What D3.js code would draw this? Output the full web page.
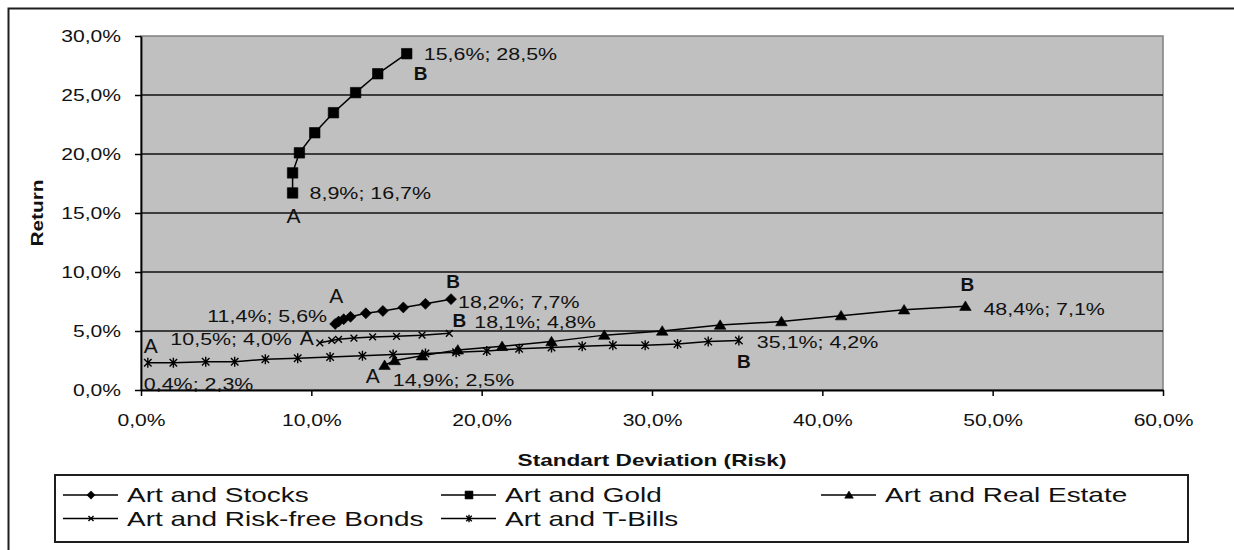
<!DOCTYPE html>
<html>
<head>
<meta charset="utf-8">
<script src="https://cdn.jsdelivr.net/npm/d3@7"></script>
<style>
  html, body { margin: 0; padding: 0; background: #fff; }
  svg { display: block; }
  text { font-family: "Liberation Sans", Arial, sans-serif; fill: #111; }
</style>
</head>
<body>
<svg id="chart" width="1234" height="550"></svg>
<script>
// Risk / return of two-asset portfolios: Art combined with another asset class.
// Values are in percent (standard deviation, return).

const seriesNames = ["Art and Stocks", "Art and Gold", "Art and Real Estate", "Art and Risk-free Bonds", "Art and T-Bills"];

const stocksRisk   = [11.4, 11.6, 11.9, 12.3, 13.2, 14.2, 15.4, 16.7, 18.2];
const stocksReturn = [5.6, 5.8, 6.0, 6.2, 6.5, 6.7, 7.0, 7.3, 7.7];

const goldRisk   = [8.9, 8.9, 9.3, 10.2, 11.3, 12.6, 13.9, 15.6];
const goldReturn = [16.7, 18.4, 20.1, 21.8, 23.5, 25.2, 26.8, 28.5];

const realEstateRisk   = [14.3, 14.9, 16.5, 18.6, 21.2, 24.1, 27.2, 30.6, 34.0, 37.6, 41.1, 44.8, 48.4];
const realEstateReturn = [2.1, 2.5, 2.9, 3.4, 3.7, 4.1, 4.65, 5.0, 5.5, 5.8, 6.3, 6.8, 7.1];

const bondsRisk   = [10.5, 11.2, 11.6, 12.5, 13.6, 15.0, 16.5, 18.1];
const bondsReturn = [4.0, 4.2, 4.3, 4.4, 4.5, 4.55, 4.65, 4.8];

const tbillsRisk   = [0.4, 1.9, 3.8, 5.5, 7.3, 9.2, 11.1, 13.0, 14.8, 16.7, 18.5, 20.3, 22.2, 24.1, 25.9, 27.7, 29.6, 31.5, 33.3, 35.1];
const tbillsReturn = [2.3, 2.3, 2.4, 2.4, 2.6, 2.7, 2.8, 2.9, 3.0, 3.1, 3.2, 3.3, 3.5, 3.6, 3.7, 3.8, 3.8, 3.9, 4.1, 4.2];

const xTickValues = [0, 10, 20, 30, 40, 50, 60];
const yTickValues = [0, 5, 10, 15, 20, 25, 30];

const xTitle = "Standart Deviation (Risk)";
const yTitle = "Return";

// ---------------------------------------------------------------------------

const riskData   = [stocksRisk, goldRisk, realEstateRisk, bondsRisk, tbillsRisk];
const returnData = [stocksReturn, goldReturn, realEstateReturn, bondsReturn, tbillsReturn];
const markerKind = ["diamond", "square", "triangle", "cross", "star"];

const series = seriesNames.map((name, i) => ({
  name,
  kind: markerKind[i],
  points: riskData[i].map((r, j) => ({ risk: r, ret: returnData[i][j] }))
}));

// "A" / "B" end-point annotations: which point, and label offsets in pixels
const endNotes = [
  { s: 0, idx: 0, letter: "A", lx: 1,  ly: -21, vAnchor: "end",   vx: -8,  vy: -2 },
  { s: 0, idx: 8, letter: "B", lx: 2,  ly: -11, vAnchor: "start", vx: 7,   vy: 9 },
  { s: 1, idx: 0, letter: "A", lx: 1,  ly: 30,  vAnchor: "start", vx: 17,  vy: 6 },
  { s: 1, idx: 7, letter: "B", lx: 14, ly: 26,  vAnchor: "start", vx: 17,  vy: 6 },
  { s: 2, idx: 1, letter: "A", lx: -22, ly: 22, vAnchor: "start", vx: -2,  vy: 25 },
  { s: 2, idx: 12, letter: "B", lx: 2, ly: -15, vAnchor: "start", vx: 18,  vy: 9 },
  { s: 3, idx: 0, letter: "A", lx: -13, ly: 2,  vAnchor: "end",   vx: -28, vy: 2 },
  { s: 3, idx: 7, letter: "B", lx: 10, ly: -6,  vAnchor: "start", vx: 25,  vy: -5 },
  { s: 4, idx: 0, letter: "A", lx: 3,  ly: -10, vAnchor: "start", vx: -4,  vy: 27 },
  { s: 4, idx: 19, letter: "B", lx: 5, ly: 28,  vAnchor: "start", vx: 18,  vy: 8 }
];

const locale = d3.formatLocale({ decimal: ",", thousands: ".", grouping: [3], currency: ["", ""] });
const f1 = locale.format(".1f");
const pct = v => f1(v) + "%";

const svg = d3.select("#chart");
const plot = { left: 141, top: 36, right: 1163, bottom: 390 };

const x = d3.scaleLinear().domain([0, 60]).range([plot.left, plot.right]);
const y = d3.scaleLinear().domain([0, 30]).range([plot.bottom, plot.top]);

// widen text horizontally by factor k (the chart uses a broad sans face)
function stretch(sel, k) {
  sel.each(function () {
    const w = this.getComputedTextLength();
    if (w > 0) d3.select(this).attr("textLength", w * k).attr("lengthAdjust", "spacingAndGlyphs");
  });
}

// outer chart frame, running off the right and bottom edges
svg.append("rect")
  .attr("x", 8.5).attr("y", 8.5)
  .attr("width", 1400).attr("height", 700)
  .attr("fill", "none").attr("stroke", "#1e1e1e").attr("stroke-width", 2);

// plot area
svg.append("rect")
  .attr("x", plot.left).attr("y", plot.top)
  .attr("width", plot.right - plot.left).attr("height", plot.bottom - plot.top)
  .attr("fill", "#c0c0c0").attr("stroke", "#808080").attr("stroke-width", 1.5);

// horizontal gridlines
svg.append("g").selectAll("line")
  .data(yTickValues.filter(v => v > 0 && v < 30))
  .join("line")
  .attr("x1", plot.left).attr("x2", plot.right)
  .attr("y1", d => y(d)).attr("y2", d => y(d))
  .attr("stroke", "#111").attr("stroke-width", 1.6);

// axes
const yAxis = svg.append("g")
  .attr("transform", `translate(${plot.left},0)`)
  .call(d3.axisLeft(y).tickValues(yTickValues).tickFormat(pct).tickSize(6).tickSizeOuter(0).tickPadding(14));

const xAxis = svg.append("g")
  .attr("transform", `translate(0,${plot.bottom})`)
  .call(d3.axisBottom(x).tickValues(xTickValues).tickFormat(pct).tickSize(6).tickSizeOuter(0).tickPadding(18));

[yAxis, xAxis].forEach(ax => {
  ax.select(".domain").attr("stroke", "#000").attr("stroke-width", 1.8);
  ax.selectAll(".tick line").attr("stroke", "#000").attr("stroke-width", 1.5);
  ax.selectAll(".tick text")
    .attr("font-family", "Liberation Sans, Arial, sans-serif")
    .attr("font-size", 17).attr("fill", "#111");
});
stretch(yAxis.selectAll(".tick text"), 1.24);
stretch(xAxis.selectAll(".tick text"), 1.24);

// axis titles
const xt = svg.append("text")
  .attr("x", (plot.left + plot.right) / 2).attr("y", 466)
  .attr("text-anchor", "middle")
  .attr("font-size", 17).attr("font-weight", "bold")
  .text(xTitle);
stretch(xt, 1.33);

const yt = svg.append("text")
  .attr("transform", `translate(43,${(plot.top + plot.bottom) / 2}) rotate(-90)`)
  .attr("text-anchor", "middle")
  .attr("font-size", 16).attr("font-weight", "bold")
  .text(yTitle);
stretch(yt, 1.3);

// marker shapes
function markerPath(kind, s) {
  const h = s / 2;
  switch (kind) {
    case "diamond":  return `M0,${-h}L${h},0L0,${h}L${-h},0Z`;
    case "square":   return `M${-h},${-h}H${h}V${h}H${-h}Z`;
    case "triangle": return `M0,${-h}L${h * 1.1},${h * 0.8}L${-h * 1.1},${h * 0.8}Z`;
    case "cross":    return `M${-h * 0.75},${-h * 0.75}L${h * 0.75},${h * 0.75}M${-h * 0.75},${h * 0.75}L${h * 0.75},${-h * 0.75}`;
    case "star":     return `M${-h * 0.75},${-h * 0.75}L${h * 0.75},${h * 0.75}M${-h * 0.75},${h * 0.75}L${h * 0.75},${-h * 0.75}M0,${-h}L0,${h}`;
  }
}
const markerSize = { diamond: 11, square: 10.5, triangle: 10.5, cross: 9, star: 10 };
const isStroked = k => k === "cross" || k === "star";

function drawMarker(g, kind, size) {
  g.append("path")
    .attr("d", markerPath(kind, size))
    .attr("fill", isStroked(kind) ? "none" : "#000")
    .attr("stroke", "#000")
    .attr("stroke-width", isStroked(kind) ? 1.4 : 0.6);
}

const line = d3.line().x(d => x(d.risk)).y(d => y(d.ret));

// series: lines first, then markers on top
const seriesG = svg.append("g");
series.forEach(s => {
  seriesG.append("path")
    .attr("d", line(s.points))
    .attr("fill", "none").attr("stroke", "#000").attr("stroke-width", 1.5);
});
series.forEach(s => {
  seriesG.append("g").selectAll("g")
    .data(s.points)
    .join("g")
    .attr("transform", d => `translate(${x(d.risk)},${y(d.ret)})`)
    .each(function () { drawMarker(d3.select(this), s.kind, markerSize[s.kind]); });
});

// end-point annotations
const noteG = svg.append("g");
endNotes.forEach(n => {
  const p = series[n.s].points[n.idx];
  const px = x(p.risk), py = y(p.ret);
  noteG.append("text")
    .attr("x", px + n.lx).attr("y", py + n.ly)
    .attr("text-anchor", "middle")
    .attr("font-size", n.letter === "B" ? 19 : 21)
    .attr("font-weight", n.letter === "B" ? "bold" : "normal")
    .text(n.letter);
  const vt = noteG.append("text")
    .attr("x", px + n.vx).attr("y", py + n.vy)
    .attr("text-anchor", n.vAnchor)
    .attr("font-size", 17)
    .text(`${pct(p.risk)}; ${pct(p.ret)}`);
  stretch(vt, 1.26);
});

// legend
const legend = { left: 55, top: 475, right: 1188, bottom: 542 };
svg.append("rect")
  .attr("x", legend.left).attr("y", legend.top)
  .attr("width", legend.right - legend.left).attr("height", legend.bottom - legend.top)
  .attr("fill", "#fff").attr("stroke", "#1e1e1e").attr("stroke-width", 2);

const legendCols = [63, 441, 821];
const legendRows = [495, 518.5];
series.forEach((s, i) => {
  const col = legendCols[i % 3], row = legendRows[Math.floor(i / 3)];
  const g = svg.append("g").attr("transform", `translate(${col},${row})`);
  g.append("line").attr("x1", 0).attr("x2", 55).attr("y1", 0).attr("y2", 0)
    .attr("stroke", "#000").attr("stroke-width", 1.4);
  const mg = g.append("g").attr("transform", "translate(28,0)");
  drawMarker(mg, s.kind, markerSize[s.kind] * 0.75);
  const t = g.append("text")
    .attr("x", 64).attr("y", 7)
    .attr("font-size", 21)
    .text(s.name);
  stretch(t, 1.33);
});
</script>
</body>
</html>
